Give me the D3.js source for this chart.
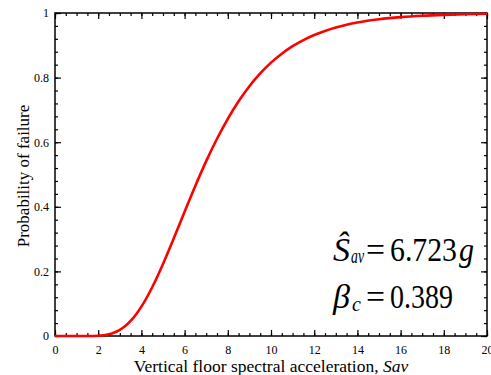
<!DOCTYPE html>
<html><head><meta charset="utf-8">
<script src="https://cdn.jsdelivr.net/npm/d3@7"></script>
</head><body style="margin:0;padding:0;background:#fff">
<svg id="c" width="491" height="375" style="display:block"></svg>
<script>
const sav = [0,0.5,1,1.5,2,2.25,2.5,2.75,3,3.25,3.5,3.75,4,4.5,5,5.5,6,6.5,7,7.5,8,8.5,9,9.5,10,10.5,11,11.5,12,12.5,13,13.5,14,15,16,17,18,19,20];
const prob = [0,0,0,0.0001,0.0009,0.0025,0.0055,0.0108,0.019,0.0308,0.0467,0.0667,0.0909,0.151,0.2232,0.3028,0.385,0.4654,0.5413,0.6106,0.6725,0.7267,0.7733,0.8129,0.8463,0.874,0.8972,0.9162,0.9318,0.9445,0.955,0.9634,0.9703,0.9804,0.9871,0.9915,0.9943,0.9962,0.9975];
const xTicks = [0,2,4,6,8,10,12,14,16,18,20];
const yTicks = [0,0.2,0.4,0.6,0.8,1];
const yTickLabels = ["0","0.2","0.4","0.6","0.8","1"];

const svg = d3.select("#c");
const L=55, R=487, T=13, B=336;
const FONT = '"Liberation Serif", monospace';
const x = d3.scaleLinear().domain([0,20]).range([L,R]);
const y = d3.scaleLinear().domain([0,1]).range([B,T]);

const xMinor = d3.range(0,20.001,0.5);
const yMinor = d3.range(0,1.0001,0.04);

function ax(tr, axis){ return svg.append("g").attr("transform",tr).call(axis); }
ax(`translate(0,${B})`, d3.axisBottom(x).tickValues(xMinor).tickSize(-3).tickFormat(""));
ax(`translate(0,${B})`, d3.axisBottom(x).tickValues(xTicks).tickSize(-6).tickPadding(9).tickFormat(d3.format("d")));
ax(`translate(0,${T})`, d3.axisTop(x).tickValues(xMinor).tickSize(-3).tickFormat(""));
ax(`translate(0,${T})`, d3.axisTop(x).tickValues(xTicks).tickSize(-6).tickFormat(""));
ax(`translate(${L},0)`, d3.axisLeft(y).tickValues(yMinor).tickSize(-3).tickFormat(""));
ax(`translate(${L},0)`, d3.axisLeft(y).tickValues(yTicks).tickSize(-6).tickPadding(6).tickFormat((d,i)=>yTickLabels[i]));
ax(`translate(${R},0)`, d3.axisRight(y).tickValues(yMinor).tickSize(-3).tickFormat(""));
ax(`translate(${R},0)`, d3.axisRight(y).tickValues(yTicks).tickSize(-6).tickFormat(""));

svg.selectAll("g").attr("font-family",null).attr("font-size",null);
svg.selectAll(".domain").remove();
svg.selectAll(".tick line").attr("stroke","#000").attr("stroke-width",1.2);
svg.selectAll(".tick text").style("font-family",FONT).attr("font-size",12).attr("fill","#000");

svg.append("rect").attr("x",L).attr("y",T).attr("width",R-L).attr("height",B-T)
  .attr("fill","none").attr("stroke","#000").attr("stroke-width",1.5);

const line = d3.line().x((d,i)=>x(sav[i])).y((d,i)=>y(prob[i])).curve(d3.curveMonotoneX);
svg.append("path").datum(prob).attr("d",line).attr("fill","none")
  .attr("stroke","#ff0000").attr("stroke-width",2.6);

// axis titles
const xl = svg.append("text").attr("x",271).attr("y",372).attr("text-anchor","middle")
  .style("font-family",FONT).attr("font-size",17.5);
xl.append("tspan").text("Vertical floor spectral acceleration, ");
xl.append("tspan").style("font-style","italic").text("Sav");

svg.append("text").attr("transform",`translate(29,176) rotate(-90)`)
  .attr("text-anchor","middle").style("font-family",FONT).attr("font-size",17)
  .text("Probability of failure");

// annotation
function t(xp, yp, size, str, italic, len){
  const e = svg.append("text").attr("x",xp).attr("y",yp)
    .style("font-family",FONT).attr("font-size",size).attr("fill","#000").text(str);
  if (italic) e.style("font-style","italic");
  if (len) e.attr("textLength",len).attr("lengthAdjust","spacingAndGlyphs");
  return e;
}
t(333,261,34,"Ŝ",true);
t(351,263,20,"av",true,13);
t(366,261,34,"=",false,19);
t(390,261,34,"6.723",false,67);
t(459,261,34,"g",true,15);

t(333,308,34,"β",true);
t(352,311,20,"c",true);
t(366,308,34,"=",false,19);
t(390,308,34,"0.389",false,63);
</script>
</body></html>
